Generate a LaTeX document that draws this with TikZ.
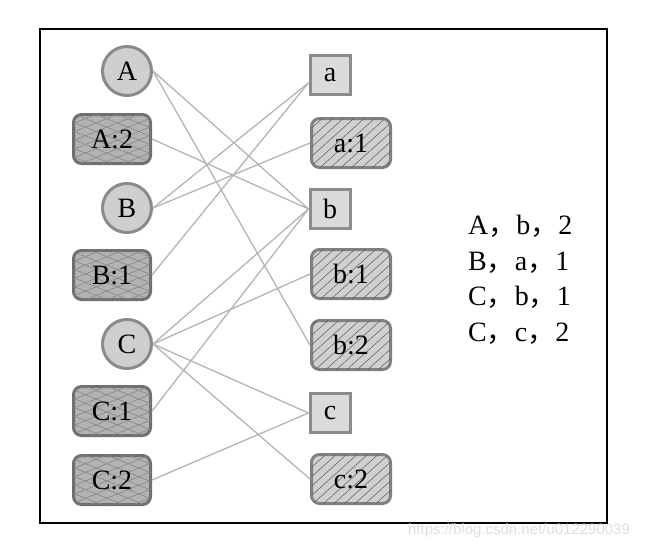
\documentclass[tikz,border=0pt]{standalone}
\usepackage{fontspec}
\setmainfont{Liberation Serif}
\newfontfamily\cjk{Noto Sans CJK SC}
\newfontfamily\wmfont{Liberation Sans}
\usetikzlibrary{patterns.meta}
\definecolor{edgegray}{HTML}{B4B4B4}
\definecolor{circfill}{HTML}{CFCFCF}
\definecolor{circline}{HTML}{8A8A8A}
\definecolor{sqfill}{HTML}{DADADA}
\definecolor{sqline}{HTML}{8C8C8C}
\definecolor{lrfill}{HTML}{B3B3B3}
\definecolor{lrline}{HTML}{707070}
\definecolor{lrhatch}{HTML}{858585}
\definecolor{rrfill}{HTML}{D0D0D0}
\definecolor{rrline}{HTML}{808080}
\definecolor{rrhatch}{HTML}{5A5A5A}
\begin{document}
\begin{tikzpicture}[x=1pt,y=-1pt,
  every node/.style={font=\fontsize{28}{32}\selectfont, inner sep=0pt},
  circnode/.style={circle, draw=circline, fill=circfill, line width=3pt, minimum size=49pt},
  sqnode/.style={rectangle, draw=sqline, fill=sqfill, line width=3pt, minimum width=40pt, minimum height=39pt},
  leftrect/.style={rectangle, rounded corners=8pt, draw=lrline, fill=lrfill, line width=3pt,
    minimum width=77pt, minimum height=49pt,
    postaction={pattern={Lines[angle=22,distance=8pt,line width=0.6pt]}, pattern color=lrhatch},
    postaction={pattern={Lines[angle=-22,distance=8pt,line width=0.6pt]}, pattern color=lrhatch}},
  rightrect/.style={rectangle, rounded corners=8pt, draw=rrline, fill=rrfill, line width=3pt,
    minimum width=79pt, minimum height=49pt,
    postaction={pattern={Lines[angle=42,distance=7pt,line width=0.5pt]}, pattern color=rrhatch}},
  link/.style={draw=edgegray, line width=1.3pt},
  listtext/.style={anchor=base west}
]
\useasboundingbox (0,0) rectangle (648,550);
\draw[line width=2pt] (39.5,28.5) rectangle (606.5,523);

% left column
\node[circnode] (A) at (127,71) {A};
\node[leftrect] (A2) at (112,139) {A:2};
\node[circnode] (B) at (127,208) {B};
\node[leftrect] (B1) at (112,275) {B:1};
\node[circnode] (C) at (127,344) {C};
\node[leftrect] (C1) at (112,411) {C:1};
\node[leftrect] (C2) at (112,480) {C:2};

% right column
\node[sqnode] (a) at (330,75) {a};
\node[rightrect] (a1) at (351,143) {a:1};
\node[sqnode] (b) at (330,209) {b};
\node[rightrect] (b1) at (351,274) {b:1};
\node[rightrect] (b2) at (351,345) {b:2};
\node[sqnode] (c) at (330,413) {c};
\node[rightrect] (c2) at (351,479) {c:2};

% connectors
\draw[link] (A.east) -- (b.west);
\draw[link] (A.east) -- (b2.west);
\draw[link] (A2.east) -- (b.west);
\draw[link] (B.east) -- (a.200);
\draw[link] (B.east) -- (a1.west);
\draw[link] (B1.east) -- (a.200);
\draw[link] (C.east) -- (b.west);
\draw[link] (C.east) -- (b1.west);
\draw[link] (C.east) -- (c.west);
\draw[link] (C.east) -- (c2.west);
\draw[link] (C1.east) -- (b.west);
\draw[link] (C2.east) -- (c.west);

% list
\node[listtext] (l1) at (468,234) {A{\cjk ，}b{\cjk ，}2};
\node[listtext] (l2) at (468,270) {B{\cjk ，}a{\cjk ，}1};
\node[listtext] (l3) at (468,305) {C{\cjk ，}b{\cjk ，}1};
\node[listtext] (l4) at (468,341) {C{\cjk ，}c{\cjk ，}2};

% watermark
\node[font=\wmfont\fontsize{15}{18}\selectfont, text=black!13] (wm) at (519,531) {https://blog.csdn.net/u012290039};
\end{tikzpicture}
\end{document}
